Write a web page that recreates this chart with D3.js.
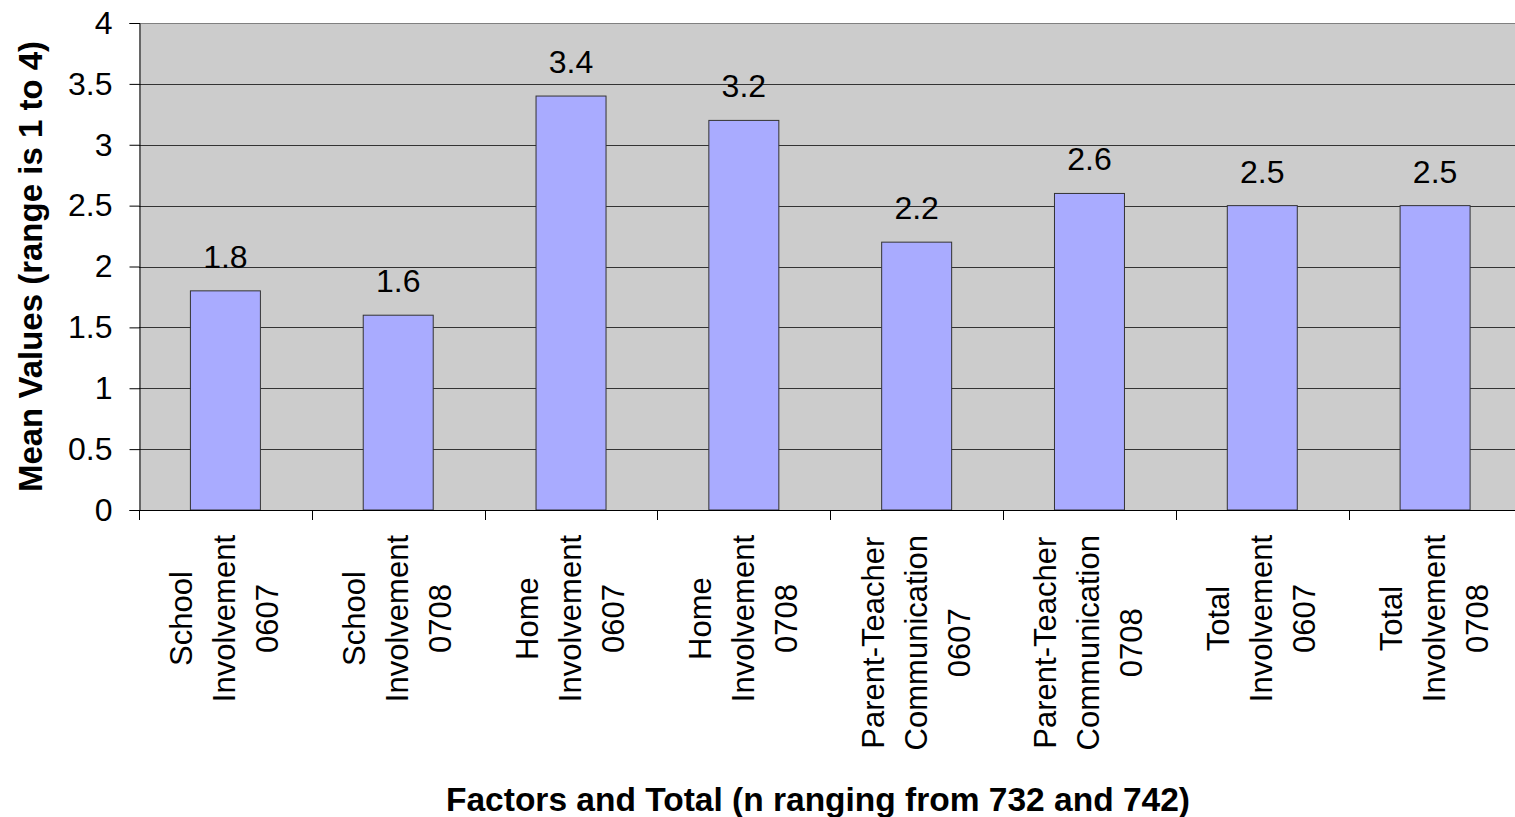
<!DOCTYPE html>
<html>
<head>
<meta charset="utf-8">
<script src="https://cdn.jsdelivr.net/npm/d3@7"></script>
<style>
  html, body { margin: 0; padding: 0; background: #ffffff; }
  svg { display: block; }
  text { font-family: "Liberation Sans", Arial, sans-serif; fill: #000; }
</style>
</head>
<body>
<svg id="chart" width="1515" height="817"></svg>
<script>
// Factor means by school year
const categories = [
  ["School", "Involvement", "0607"],
  ["School", "Involvement", "0708"],
  ["Home", "Involvement", "0607"],
  ["Home", "Involvement", "0708"],
  ["Parent-Teacher", "Communication", "0607"],
  ["Parent-Teacher", "Communication", "0708"],
  ["Total", "Involvement", "0607"],
  ["Total", "Involvement", "0708"]
];
const meanValues = [1.8, 1.6, 3.4, 3.2, 2.2, 2.6, 2.5, 2.5];
const yTicks = [0, 0.5, 1, 1.5, 2, 2.5, 3, 3.5, 4];
const yTitle = "Mean Values (range is 1 to 4)";
const xTitle = "Factors and Total (n ranging from 732 and 742)";

const svg = d3.select("#chart");
const plot = { left: 139, top: 23, right: 1521.5, bottom: 510 };

const keys = categories.map((c, i) => i);
const x = d3.scaleBand()
  .domain(keys)
  .range([plot.left, plot.right])
  .paddingInner(0.595)
  .paddingOuter(0.2975);
const step = x.step();

const y = d3.scaleLinear().domain([0, 4]).range([plot.bottom, plot.top]);

// plot area background
svg.append("rect")
  .attr("x", plot.left).attr("y", plot.top)
  .attr("width", plot.right - plot.left)
  .attr("height", plot.bottom - plot.top)
  .attr("fill", "#cccccc");

// horizontal gridlines
svg.append("g").selectAll("line")
  .data(yTicks.filter(t => t > 0))
  .join("line")
  .attr("x1", plot.left).attr("x2", plot.right)
  .attr("y1", d => Math.round(y(d)) + 0.5).attr("y2", d => Math.round(y(d)) + 0.5)
  .attr("stroke", d => d === 4 ? "#808080" : "#333333")
  .attr("stroke-width", 1);

// bars
svg.append("g").selectAll("rect")
  .data(meanValues)
  .join("rect")
  .attr("x", (d, i) => x(i))
  .attr("y", d => y(d))
  .attr("width", x.bandwidth())
  .attr("height", d => plot.bottom - y(d))
  .attr("fill", "#a9abff")
  .attr("stroke", "#333333")
  .attr("stroke-width", 1);

// value labels
svg.append("g").selectAll("text")
  .data(meanValues)
  .join("text")
  .attr("x", (d, i) => x(i) + x.bandwidth() / 2)
  .attr("y", d => y(d) - 23)
  .attr("text-anchor", "middle")
  .attr("font-size", 32)
  .text(d => d3.format(".1f")(d));

// y axis
const yAxis = d3.axisLeft(y)
  .tickValues(yTicks)
  .tickSize(10)
  .tickPadding(17)
  .tickFormat(d => String(d));
const gy = svg.append("g")
  .attr("transform", `translate(${plot.left + 0.5},0)`)
  .call(yAxis);
gy.select(".domain").attr("stroke", "#000");
gy.selectAll(".tick line").attr("stroke", "#000");
gy.selectAll(".tick text")
  .attr("font-size", 32)
  .attr("font-family", "Liberation Sans, Arial, sans-serif")
  .attr("fill", "#000");

// x axis line and category boundary ticks
svg.append("line")
  .attr("x1", plot.left).attr("x2", plot.right)
  .attr("y1", plot.bottom + 0.5).attr("y2", plot.bottom + 0.5)
  .attr("stroke", "#000");
svg.append("g").selectAll("line")
  .data(d3.range(categories.length + 1))
  .join("line")
  .attr("x1", i => Math.round(plot.left + i * step) + 0.5)
  .attr("x2", i => Math.round(plot.left + i * step) + 0.5)
  .attr("y1", plot.bottom).attr("y2", plot.bottom + 10)
  .attr("stroke", "#000");

// rotated multi-line category labels; the longest line starts just below the axis
const labelTop = 535;
const lineGap = 43;
const catG = svg.append("g").selectAll("g")
  .data(categories)
  .join("g");
catG.selectAll("text")
  .data(d => d)
  .join("text")
  .attr("transform", (d, j) => `translate(${(j - 1) * lineGap},0) rotate(-90)`)
  .attr("text-anchor", "middle")
  .attr("font-size", 31)
  .text(d => d);
catG.attr("transform", function(d, i) {
  const longest = d3.max(d3.select(this).selectAll("text").nodes(), n => n.getComputedTextLength());
  return `translate(${x(i) + x.bandwidth() / 2 + 10},${labelTop + longest / 2})`;
});

// axis titles
svg.append("text")
  .attr("transform", `translate(42,${(plot.top + plot.bottom) / 2}) rotate(-90)`)
  .attr("text-anchor", "middle")
  .attr("font-size", 33)
  .attr("font-weight", "bold")
  .text(yTitle);

svg.append("text")
  .attr("x", 818)
  .attr("y", 811)
  .attr("text-anchor", "middle")
  .attr("font-size", 33.5)
  .attr("font-weight", "bold")
  .text(xTitle);
</script>
</body>
</html>
